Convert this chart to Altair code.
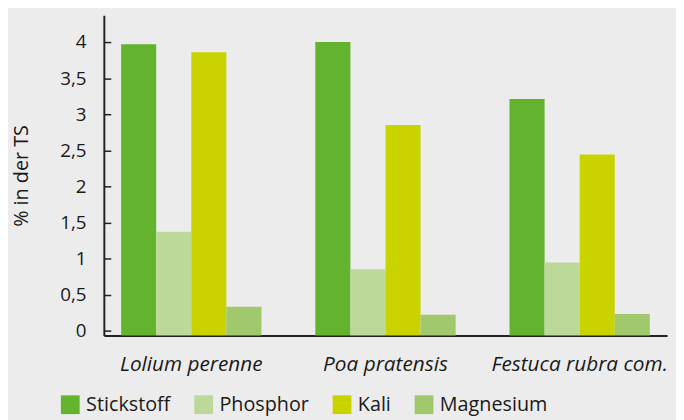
import altair as alt
import pandas as pd

species = ["Lolium perenne", "Poa pratensis", "Festuca rubra com."]
nutrients = ["Stickstoff", "Phosphor", "Kali", "Magnesium"]
stickstoff = [3.97, 4.00, 3.21]
phosphor = [1.37, 0.85, 0.945]
kali = [3.86, 2.85, 2.44]
magnesium = [0.33, 0.22, 0.23]
tick_values = [0, 0.5, 1, 1.5, 2, 2.5, 3, 3.5, 4]
colors = ["#64b32e", "#bdd999", "#c8d300", "#a0c86c"]
y_min, y_max = -0.0685, 4.37

rows = []
for series_name, vals in zip(nutrients, [stickstoff, phosphor, kali, magnesium]):
    for sp, v in zip(species, vals):
        rows.append({"Art": sp, "Naehrstoff": series_name, "Wert": v})
df = pd.DataFrame(rows)

W, H = 570, 324
FONT = "Open Sans"
TXT = "#1a1a1a"

x_axis = alt.Axis(title=None, labelAngle=0, ticks=False, labelPadding=18,
                  labelFont=FONT, labelFontStyle="italic", labelFontSize=21,
                  labelColor=TXT, domainColor="#222", domainWidth=2)
x_scale = alt.Scale(paddingInner=0.2774, paddingOuter=0.089)
x_enc = alt.X("Art:N", sort=species, scale=x_scale, axis=x_axis)
xoff = alt.XOffset("Naehrstoff:N", sort=nutrients, scale=alt.Scale(paddingInner=0, paddingOuter=0))
y_scale = alt.Scale(domain=[y_min, y_max], nice=False, zero=False)
color = alt.Color("Naehrstoff:N", sort=nutrients,
                  scale=alt.Scale(domain=nutrients, range=colors),
                  legend=alt.Legend(title=None, orient="none", direction="horizontal",
                                    legendX=-44, legendY=384,
                                    symbolType="square", symbolSize=361, symbolStrokeWidth=0,
                                    symbolOpacity=1,
                                    labelFont=FONT, labelFontSize=20, labelColor=TXT,
                                    labelOffset=6, columnPadding=23))

bars = alt.Chart(df).mark_bar(opacity=1).encode(
    x=x_enc,
    xOffset=xoff,
    y=alt.Y("Wert:Q", scale=y_scale,
            axis=alt.Axis(title="% in der TS", values=tick_values, ticks=False,
                          labelExpr="replace(toString(datum.value), '.', ',')",
                          labelFont=FONT, labelFontSize=19, labelColor=TXT, labelPadding=18,
                          domainColor="#222", domainWidth=2, grid=False,
                          titleFont=FONT, titleFontSize=20, titleFontWeight="normal",
                          titleColor=TXT, titleX=-83, titleY=H / 2, titleAngle=270,
                          titleAlign="center", titleBaseline="middle")),
    y2=alt.datum(y_min),
    color=color,
)

ticks = alt.Chart(df).mark_bar(opacity=0).encode(
    x=x_enc,
    xOffset=xoff,
    y=alt.Y("Wert:Q", scale=y_scale,
            axis=alt.Axis(orient="right", offset=-W, labels=False, domain=False, grid=False,
                          ticks=True, tickSize=7, tickWidth=1.5, tickColor="#222",
                          values=tick_values, title=None)),
    y2=alt.datum(y_min),
)

chart = alt.layer(bars, ticks).resolve_axis(y="independent").properties(
    width=W, height=H,
    autosize=alt.AutoSizeParams(type="none"),
    padding={"left": 97, "top": 5, "right": 9, "bottom": 83},
    background="#ececec",
).configure_view(stroke=None)

chart.save("out.html", embed_options={"renderer": "svg", "actions": False})
